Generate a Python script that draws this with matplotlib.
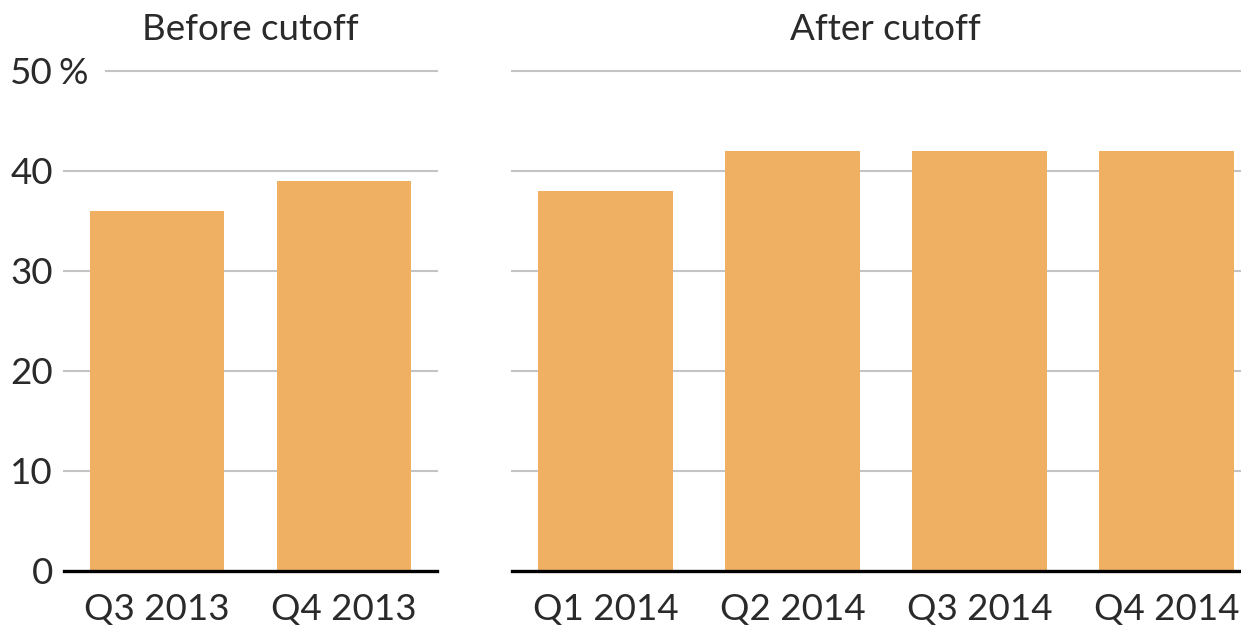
import matplotlib
matplotlib.use("Agg")
import matplotlib.pyplot as plt

# data
before_labels = ["Q3 2013", "Q4 2013"]
before_vals = [36, 39]
after_labels = ["Q1 2014", "Q2 2014", "Q3 2014", "Q4 2014"]
after_vals = [38, 42, 42, 42]
yticks = [0, 10, 20, 30, 40, 50]

bar_color = "#F0B064"
text_color = "#2a2a2a"
grid_color = "#c4c4c4"

plt.rcParams["font.family"] = ["Lato", "DejaVu Sans"]

fig = plt.figure(figsize=(12.41, 6.27), dpi=100)
W, H = 1241, 627
bottom = (H - 571) / H
height = (571 - 71) / H
fs = 26.5

ax1 = fig.add_axes([64 / W, bottom, 373 / W, height])
ax2 = fig.add_axes([512 / W, bottom, 729 / W, height])


def style(ax, labels, vals, xmax, show_y):
    x = list(range(len(vals)))
    for y in yticks[1:]:
        xmin = 0.0
        if show_y and y == 50:
            xmin = (106 - 64) / 373
        ax.axhline(y, xmin=xmin, color=grid_color, lw=1.5, zorder=0, clip_on=False)
    ax.bar(x, vals, width=0.72, color=bar_color, zorder=2)
    ax.axhline(0, color="black", lw=2.4, zorder=3, clip_on=False)
    ax.set_xlim(-0.5, xmax)
    ax.set_ylim(0, 50)
    ax.set_xticks(x)
    ax.set_xticklabels(labels)
    ax.tick_params(axis="x", length=0, pad=16, labelsize=fs, labelcolor=text_color)
    ax.set_yticks(yticks)
    if show_y:
        ax.set_yticklabels([str(t) for t in yticks])
        ax.tick_params(axis="y", length=0, pad=8, labelsize=fs, labelcolor=text_color)
        ax.text(-0.016, 50, "%", transform=ax.get_yaxis_transform(), ha="left",
                va="center_baseline", fontsize=fs, color=text_color)
    else:
        ax.set_yticklabels([])
        ax.tick_params(axis="y", length=0)
    for s in ax.spines.values():
        s.set_visible(False)


style(ax1, before_labels, before_vals, 1.5, True)
style(ax2, after_labels, after_vals, 3.398, False)

fig.text(250 / W, 1 - 30 / H, "Before cutoff", ha="center", va="center",
         fontsize=fs, color=text_color)
fig.text(885 / W, 1 - 30 / H, "After cutoff", ha="center", va="center",
         fontsize=fs, color=text_color)

fig.savefig("out.png", dpi=100, facecolor="white")
